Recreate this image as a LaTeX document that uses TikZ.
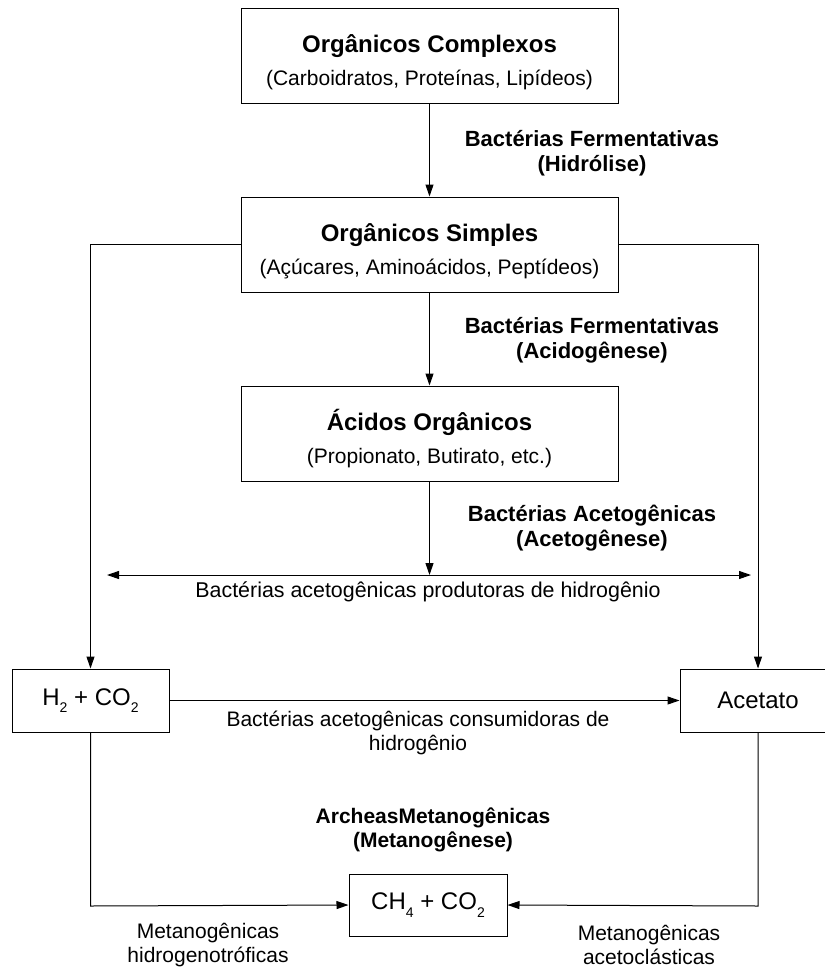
\documentclass[tikz,border=0pt]{standalone}
\usepackage{fontspec}
\setmainfont{Liberation Sans}
\usetikzlibrary{arrows.meta}
\newcommand\chemsub[1]{\raisebox{-0.32em}{\fontsize{14}{14}\selectfont #1}}
\tikzset{
  stagebox/.style={draw, line width=1pt, minimum width=377pt, minimum height=95pt,
    inner sep=0pt, align=center, font=\fontsize{21}{33}\selectfont},
  smallbox/.style={draw, line width=1pt, minimum width=157pt, minimum height=63pt,
    inner sep=0pt, font=\fontsize{24}{28}\selectfont},
  flow/.style={line width=1pt, -{Triangle[length=12pt,width=8pt]}},
  twoway/.style={line width=1pt, {Triangle[length=12pt,width=8pt]}-{Triangle[length=12pt,width=8pt]}},
  boldlbl/.style={align=center, font=\fontsize{22}{25}\selectfont\bfseries},
  plainlbl/.style={align=center, font=\fontsize{21}{24}\selectfont},
}
\newcommand\stagetitle[1]{\rule{0pt}{31pt}{\fontsize{24}{33}\selectfont\bfseries #1}}
\begin{document}
\begin{tikzpicture}[x=1pt, y=-1pt]
  \useasboundingbox (0,0) rectangle (825,967);

  % main chain of stages
  \node[stagebox] (complexos) at (429.5,55.5)
    {\stagetitle{Orgânicos Complexos}\\(Carboidratos, Proteínas, Lipídeos)};
  \node[stagebox] (simples) at (429.5,244.5)
    {\stagetitle{Orgânicos Simples}\\(Açúcares, Aminoácidos, Peptídeos)};
  \node[stagebox] (acidos) at (429.5,433.5)
    {\stagetitle{Ácidos Orgânicos}\\(Propionato, Butirato, etc.)};

  % products
  \node[smallbox] (hco) at (90.5,700.5) {H\chemsub{2} + CO\chemsub{2}};
  \node[smallbox, minimum width=156pt] (acetato) at (758,700.5) {Acetato};
  \node[smallbox, minimum width=158pt, minimum height=62pt] (metano) at (428,905)
    {CH\chemsub{4} + CO\chemsub{2}};

  % helper points
  \coordinate (split) at (429.5,575);
  \coordinate (dl) at (107,575);
  \coordinate (dr) at (751,575);
  \coordinate (lt) at (90.5,244.5);
  \coordinate (rt) at (758,244.5);
  \coordinate (lb) at (90.5,906);
  \coordinate (rb) at (758,906);

  % connectors
  \draw[flow] (complexos) -- (simples);
  \draw[flow] (simples) -- (acidos);
  \draw[flow] (acidos) -- (split);
  \draw[twoway] (dl) -- (dr);
  \draw[flow] (simples.west) -- (lt) -- (hco.north);
  \draw[flow] (simples.east) -- (rt) -- (acetato.north);
  \draw[flow] (hco) -- (acetato);
  \draw[flow] (hco.south) -- (lb) -- (metano.west);
  \draw[flow] (acetato.south) -- (rb) -- (metano.east);

  % labels
  \node[boldlbl] (hidrolise) at (592,153) {Bactérias Fermentativas\\(Hidrólise)};
  \node[boldlbl] (acidogenese) at (592,340) {Bactérias Fermentativas\\(Acidogênese)};
  \node[boldlbl] (acetogenese) at (592,528) {Bactérias Acetogênicas\\(Acetogênese)};
  \node[plainlbl, font=\fontsize{21.4}{24}\selectfont] (produtoras) at (428,592)
    {Bactérias acetogênicas produtoras de hidrogênio};
  \node[plainlbl] (consumidoras) at (418,733) {Bactérias acetogênicas consumidoras de\\hidrogênio};
  \node[boldlbl, font=\fontsize{21}{24}\selectfont\bfseries] (metanogenese) at (433,830)
    {ArcheasMetanogênicas\\(Metanogênese)};
  \node[plainlbl] (hidrogeno) at (208,945) {Metanogênicas\\hidrogenotróficas};
  \node[plainlbl] (acetoclast) at (649,945) {Metanogênicas\\acetoclásticas};
\end{tikzpicture}
\end{document}
